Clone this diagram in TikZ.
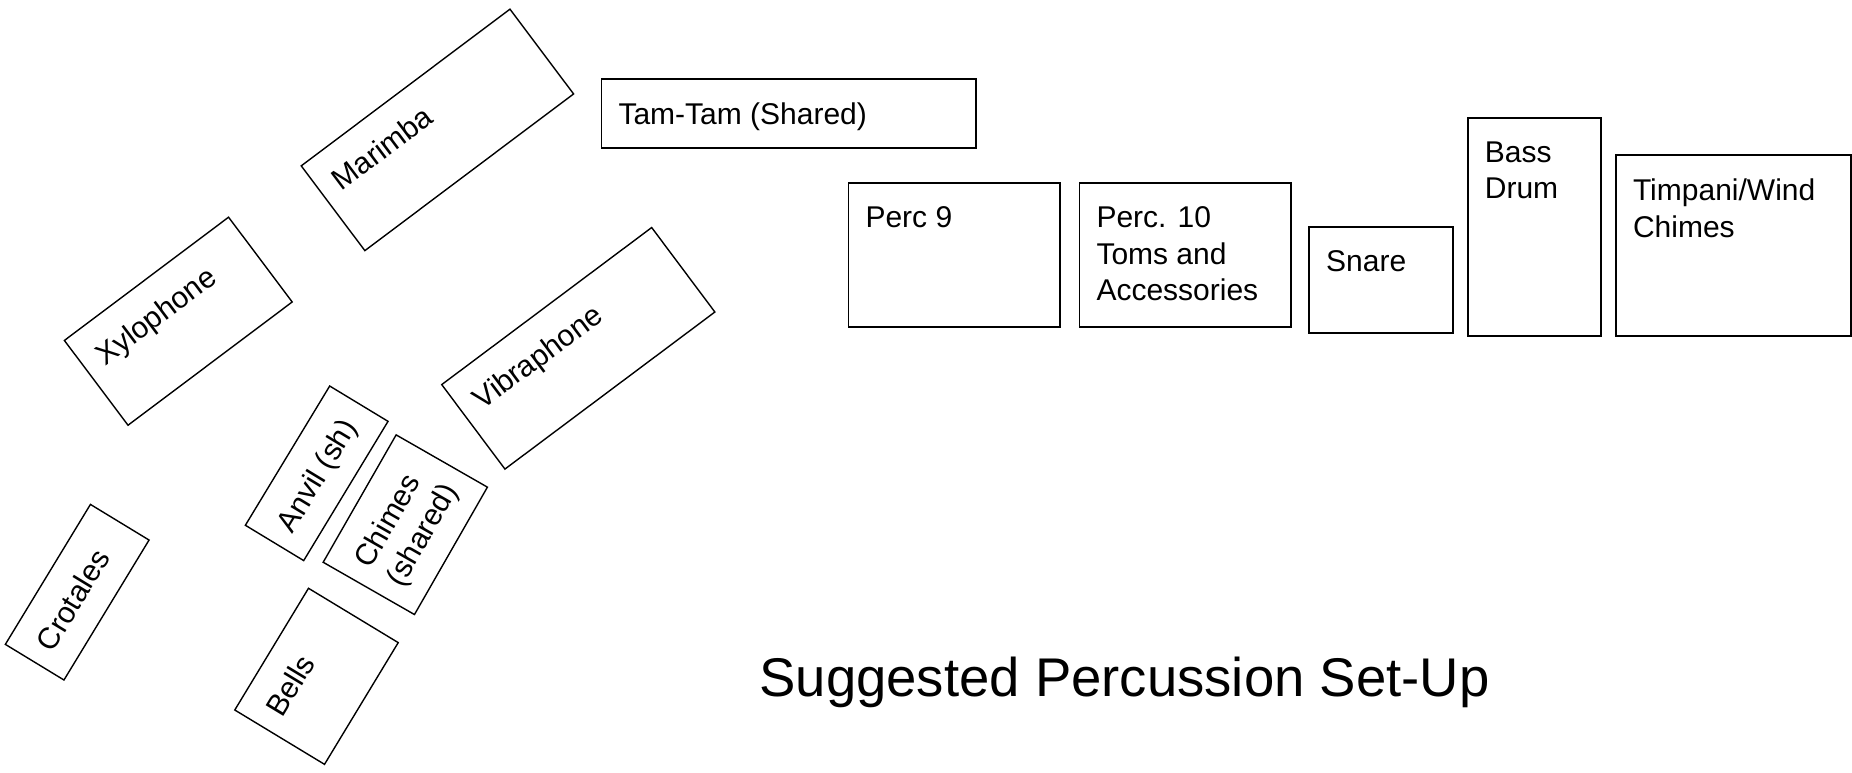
\documentclass[tikz,border=0pt]{standalone}
\usepackage{fontspec}
\setmainfont{Liberation Sans}
\tikzset{
  box/.style={draw=black, line width=1.8pt, inner sep=0pt, outer sep=0pt},
  rbox/.style={box, line width=1.4pt},
  lbl/.style={inner sep=0pt, outer sep=0pt, anchor=north west, align=left,
              font=\fontsize{30}{36.5}\selectfont},
  ttl/.style={inner sep=0pt, outer sep=0pt, anchor=base west,
              font=\fontsize{54.5}{60}\selectfont},
}
\begin{document}
\begin{tikzpicture}[x=1pt,y=-1pt]
\useasboundingbox (0,0) rectangle (1852,772);
\fill[white] (0,0) rectangle (1852,772);

% straight boxes
\node[box, anchor=north west, minimum width=374.7pt, minimum height=69pt] (tamtam) at (601.5,79.3) {};
\node[lbl] (tamtamT) at (618.5,102.8) {Tam-Tam (Shared)};

\node[box, anchor=north west, minimum width=211.7pt, minimum height=143.4pt] (perc9) at (848.5,183.3) {};
\node[lbl] (perc9T) at (865.5,206.8) {Perc 9};

\node[box, anchor=north west, minimum width=211.7pt, minimum height=143.4pt] (perc10) at (1079.5,183.3) {};
\node[lbl] (perc10T) at (1096.5,206.8) {Perc. 10\\Toms and\\Accessories};

\node[box, anchor=north west, minimum width=143.7pt, minimum height=106.3pt] (snare) at (1309.2,227) {};
\node[lbl] (snareT) at (1326.2,250.5) {Snare};

\node[box, anchor=north west, minimum width=133.1pt, minimum height=217.4pt] (bass) at (1467.9,118.3) {};
\node[lbl] (bassT) at (1484.9,141.8) {Bass\\Drum};

\node[box, anchor=north west, minimum width=234.9pt, minimum height=180.4pt] (timp) at (1616,155.3) {};
\node[lbl] (timpT) at (1633,178.8) {Timpani/Wind\\Chimes};

% rotated boxes
\begin{scope}[shift={(437.4,129.9)}, rotate=36.9, transform shape]
  \node[rbox, minimum width=261pt, minimum height=106pt] (marimba) at (0,0) {};
  \node[lbl] (marimbaT) at (-113.5,-29.5) {Marimba};
\end{scope}

\begin{scope}[shift={(178.3,321.2)}, rotate=36.9, transform shape]
  \node[rbox, minimum width=205.3pt, minimum height=106pt] (xylo) at (0,0) {};
  \node[lbl] (xyloT) at (-85.65,-29.5) {Xylophone};
\end{scope}

\begin{scope}[shift={(578.3,348.3)}, rotate=36.8, transform shape]
  \node[rbox, minimum width=262.2pt, minimum height=105.5pt] (vibe) at (0,0) {};
  \node[lbl] (vibeT) at (-114.1,-29.25) {Vibraphone};
\end{scope}

\begin{scope}[shift={(77.2,592.2)}, rotate=58.7, transform shape]
  \node[rbox, minimum width=163.8pt, minimum height=68.6pt] (crot) at (0,0) {};
  \node[lbl] (crotT) at (-64.9,-10.8) {Crotales};
\end{scope}

\begin{scope}[shift={(316.7,473.3)}, rotate=58.8, transform shape]
  \node[rbox, minimum width=162.8pt, minimum height=68.2pt] (anvil) at (0,0) {};
  \node[lbl] (anvilT) at (-64.4,-10.6) {Anvil (sh)};
\end{scope}

\begin{scope}[shift={(405.3,524.7)}, rotate=60.2, transform shape]
  \node[rbox, minimum width=146.8pt, minimum height=105.2pt] (chimes) at (0,0) {};
  \node[lbl] (chimesT) at (-56.4,-29.1) {Chimes\\(shared)};
\end{scope}

\begin{scope}[shift={(316.5,676.3)}, rotate=58.8, transform shape]
  \node[rbox, minimum width=142.3pt, minimum height=104.9pt] (bells) at (0,0) {};
  \node[lbl] (bellsT) at (-54.15,-28.95) {Bells};
\end{scope}

\node[ttl] (title) at (759.4,696) {Suggested Percussion Set-Up};
\end{tikzpicture}
\end{document}
